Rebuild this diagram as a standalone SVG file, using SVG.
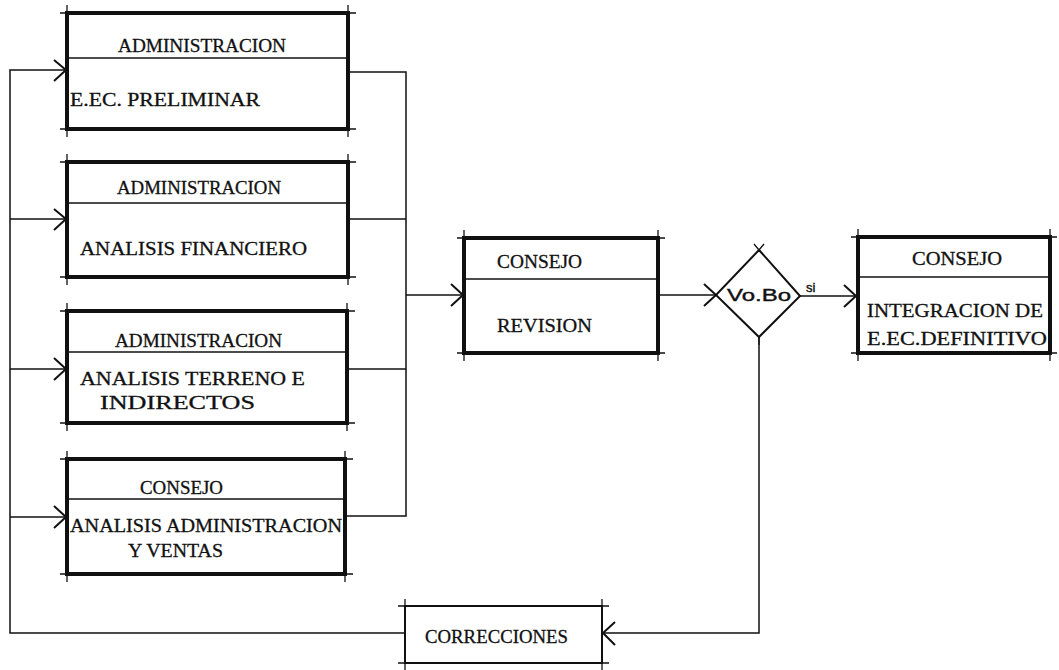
<svg xmlns="http://www.w3.org/2000/svg" width="1059" height="670" viewBox="0 0 1059 670">
<defs>
<style>
.bx{fill:none;stroke:#111;stroke-width:4}
.bt{fill:none;stroke:#111;stroke-width:2}
.tk{stroke:#111;stroke-width:1.3;fill:none}
.dv{stroke:#111;stroke-width:1.5}
.ln{fill:none;stroke:#111;stroke-width:1.5}
.ar{fill:none;stroke:#111;stroke-width:2}
.t{font-family:"Liberation Serif","Times New Roman",serif;font-size:19px;fill:#111;stroke:#111;stroke-width:0.3}
.s{font-family:"Liberation Sans",Arial,sans-serif;font-size:17px;fill:#111;stroke:#111;stroke-width:0.4}
</style>
</defs>
<rect width="1059" height="670" fill="#fff"/>
<g id="connectors">
<polyline class="ln" points="405,633 10,633 10,70 66,70"/>
<line class="ln" x1="10" y1="219" x2="66" y2="219"/>
<line class="ln" x1="10" y1="369" x2="66" y2="369"/>
<line class="ln" x1="10" y1="517" x2="66" y2="517"/>
<polyline class="ln" points="350,72 406,72 406,516 347,516"/>
<line class="ln" x1="350" y1="219" x2="406" y2="219"/>
<line class="ln" x1="349" y1="369" x2="406" y2="369"/>
<line class="ln" x1="406" y1="295" x2="463" y2="295"/>
<line class="ln" x1="660" y1="295" x2="716" y2="295"/>
<line class="ln" x1="800" y1="296" x2="856" y2="296"/>
<polyline class="ln" points="759,337 759,633 603,633"/>
<polyline class="ar" points="54,60 66,70 54,81"/>
<polyline class="ar" points="54,209 66,219 54,230"/>
<polyline class="ar" points="54,358 66,369 54,380"/>
<polyline class="ar" points="54,506 66,517 54,528"/>
<polyline class="ar" points="451,284 463,295 451,306"/>
<polyline class="ar" points="704,284 716,295 704,306"/>
<polyline class="ar" points="844,285 856,296 844,307"/>
<polyline class="ar" points="615,622 603,633 615,645"/>
<text class="s" x="806" y="292" style="font-size:13px">si</text>
</g>
<g id="n1">
<rect class="bx" x="67" y="13" width="281" height="116"/>
<path class="tk" d="M60,13H356M60,129H356M67,5V137M348,5V137"/>
<line class="dv" x1="67" y1="58" x2="348" y2="58"/>
<text class="t" x="118" y="52" textLength="168" lengthAdjust="spacingAndGlyphs">ADMINISTRACION</text>
<text class="t" x="70" y="106" textLength="190" lengthAdjust="spacingAndGlyphs">E.EC. PRELIMINAR</text>
</g>
<g id="n2">
<rect class="bx" x="67" y="162" width="281" height="115"/>
<path class="tk" d="M60,162H356M60,277H356M67,154V285M348,154V285"/>
<line class="dv" x1="67" y1="203" x2="348" y2="203"/>
<text class="t" x="117" y="194" textLength="164" lengthAdjust="spacingAndGlyphs">ADMINISTRACION</text>
<text class="t" x="80" y="255" textLength="227" lengthAdjust="spacingAndGlyphs">ANALISIS FINANCIERO</text>
</g>
<g id="n3">
<rect class="bx" x="67" y="311" width="280" height="112"/>
<path class="tk" d="M60,311H355M60,423H355M67,303V431M347,303V431"/>
<line class="dv" x1="67" y1="352" x2="347" y2="352"/>
<text class="t" x="115" y="347" textLength="167" lengthAdjust="spacingAndGlyphs">ADMINISTRACION</text>
<text class="t" x="80" y="385" textLength="225" lengthAdjust="spacingAndGlyphs">ANALISIS TERRENO  E</text>
<text class="t" x="100" y="409" textLength="155" lengthAdjust="spacingAndGlyphs">INDIRECTOS</text>
</g>
<g id="n4">
<rect class="bx" x="67" y="459" width="278" height="115"/>
<path class="tk" d="M60,459H353M60,574H353M67,451V582M345,451V582"/>
<line class="dv" x1="67" y1="499" x2="345" y2="499"/>
<text class="t" x="140" y="494" textLength="83" lengthAdjust="spacingAndGlyphs">CONSEJO</text>
<text class="t" x="70" y="532" textLength="272" lengthAdjust="spacingAndGlyphs">ANALISIS ADMINISTRACION</text>
<text class="t" x="128" y="557" textLength="95" lengthAdjust="spacingAndGlyphs">Y VENTAS</text>
</g>
<g id="revision">
<rect class="bx" x="464" y="238" width="194" height="115"/>
<path class="tk" d="M457,238H665M457,353H665M464,230V361M658,230V361"/>
<line class="dv" x1="464" y1="279" x2="658" y2="279"/>
<text class="t" x="497" y="268" textLength="85" lengthAdjust="spacingAndGlyphs">CONSEJO</text>
<text class="t" x="497" y="332" textLength="95" lengthAdjust="spacingAndGlyphs">REVISION</text>
</g>
<g id="vobo">
<path class="ar" d="M759,250L800,296L759,337L716,295Z"/>
<path class="tk" d="M759,250L754,244M759,250L764,244M759,337V345"/>
<text class="s" x="759" y="301" text-anchor="middle" textLength="64" lengthAdjust="spacingAndGlyphs">Vo.Bo</text>
</g>
<g id="definitivo">
<rect class="bx" x="858" y="237" width="192" height="116"/>
<path class="tk" d="M851,237H1057M851,353H1057M858,229V361M1050,229V361"/>
<line class="dv" x1="858" y1="277" x2="1050" y2="277"/>
<text class="t" x="912" y="265" textLength="90" lengthAdjust="spacingAndGlyphs">CONSEJO</text>
<text class="t" x="867" y="317" textLength="176" lengthAdjust="spacingAndGlyphs">INTEGRACION DE</text>
<text class="t" x="867" y="345" textLength="180" lengthAdjust="spacingAndGlyphs">E.EC.DEFINITIVO</text>
</g>
<g id="correcciones">
<rect class="bt" x="405" y="606" width="197" height="57"/>
<path class="tk" d="M398,606H609M398,663H609M405,599V670M602,599V670"/>
<text class="t" x="425" y="643" textLength="143" lengthAdjust="spacingAndGlyphs">CORRECCIONES</text>
</g>
</svg>
